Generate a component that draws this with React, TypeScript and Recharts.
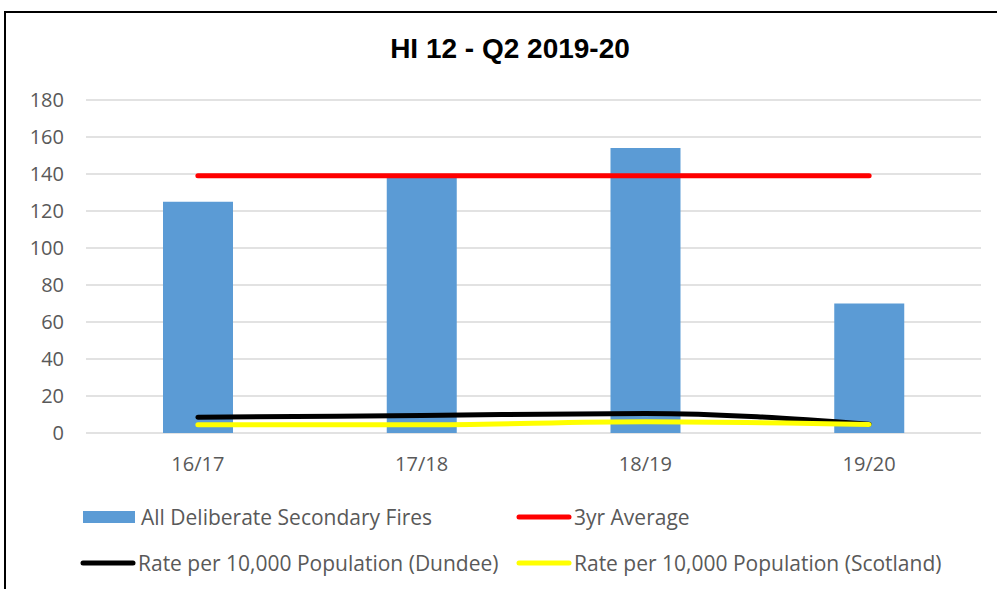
import { ComposedChart, Bar, Line, XAxis, YAxis, CartesianGrid } from 'recharts'

const years = ['16/17', '17/18', '18/19', '19/20']
const deliberateFires = [125, 138, 154, 70]
const threeYearAvg = [139, 139, 139, 139]
const rateDundee = [8.5, 9.5, 10.6, 4.8]
const rateScotland = [4.5, 4.5, 6.1, 4.6]
const yTicks = [0, 20, 40, 60, 80, 100, 120, 140, 160, 180]

const chartData = years.map((y, i) => ({
  year: y,
  fires: deliberateFires[i],
  avg: threeYearAvg[i],
  dundee: rateDundee[i],
  scotland: rateScotland[i],
}))

const titleFont = '"Liberation Sans", Arial, sans-serif'
const font = '"Open Sans", "Noto Sans", sans-serif'
const textGrey = '#595959'

function LineSwatch({ color }: { color: string }) {
  return (
    <svg width={56} height={10} style={{ display: 'block' }}>
      <line x1={3} y1={5} x2={53} y2={5} stroke={color} strokeWidth={5} strokeLinecap="round" />
    </svg>
  )
}

function LegendItem({ x, y, swatch, label }: { x: number; y: number; swatch: React.ReactNode; label: string }) {
  return (
    <div style={{ position: 'absolute', left: x, top: y, display: 'flex', alignItems: 'center', height: 24 }}>
      {swatch}
      <span style={{ marginLeft: 2, fontSize: 21, color: textGrey, fontFamily: font, whiteSpace: 'nowrap' }}>{label}</span>
    </div>
  )
}

export default function App() {
  return (
    <div style={{ position: 'absolute', left: 0, top: 0, width: 997, height: 589, overflow: 'hidden', background: '#fff' }}>
      <div style={{ position: 'absolute', left: 4, top: 11, width: 1000, height: 620, border: '2px solid #000', boxSizing: 'border-box' }} />
      <div style={{ position: 'absolute', left: 0, top: 33, width: 1020, textAlign: 'center', fontFamily: titleFont, fontWeight: 'bold', fontSize: 28, color: '#000' }}>
        HI 12 - Q2 2019-20
      </div>
      <div style={{ position: 'absolute', left: 0, top: 0 }}>
        <ComposedChart width={997} height={589} data={chartData} margin={{ top: 100, right: 16, bottom: 0, left: 0 }}>
          <CartesianGrid vertical={false} stroke="#d9d9d9" strokeWidth={1.5} />
          <XAxis
            dataKey="year"
            height={156}
            axisLine={false}
            tickLine={false}
            tickSize={0}
            tickMargin={24}
            tick={{ fill: textGrey, fontSize: 20, fontFamily: font }}
          />
          <YAxis
            width={86}
            domain={[0, 180]}
            ticks={yTicks}
            axisLine={false}
            tickLine={false}
            tickSize={0}
            tickMargin={22}
            tick={{ fill: textGrey, fontSize: 20, fontFamily: font }}
          />
          <Bar dataKey="fires" fill="#5b9bd5" barSize={70} isAnimationActive={false} />
          <Line dataKey="avg" stroke="#ff0000" strokeWidth={5} strokeLinecap="round" dot={false} activeDot={false} isAnimationActive={false} />
          <Line type="monotone" dataKey="dundee" stroke="#000000" strokeWidth={5} strokeLinecap="round" dot={false} activeDot={false} isAnimationActive={false} />
          <Line type="monotone" dataKey="scotland" stroke="#ffff00" strokeWidth={5} strokeLinecap="round" dot={false} activeDot={false} isAnimationActive={false} />
        </ComposedChart>
      </div>
      <LegendItem
        x={83}
        y={505}
        swatch={<div style={{ width: 52, height: 12, background: '#5b9bd5', marginRight: 4 }} />}
        label="All Deliberate Secondary Fires"
      />
      <LegendItem x={516} y={505} swatch={<LineSwatch color="#ff0000" />} label="3yr Average" />
      <LegendItem x={80} y={551} swatch={<LineSwatch color="#000000" />} label="Rate per 10,000 Population (Dundee)" />
      <LegendItem x={516} y={551} swatch={<LineSwatch color="#ffff00" />} label="Rate per 10,000 Population (Scotland)" />
    </div>
  )
}
